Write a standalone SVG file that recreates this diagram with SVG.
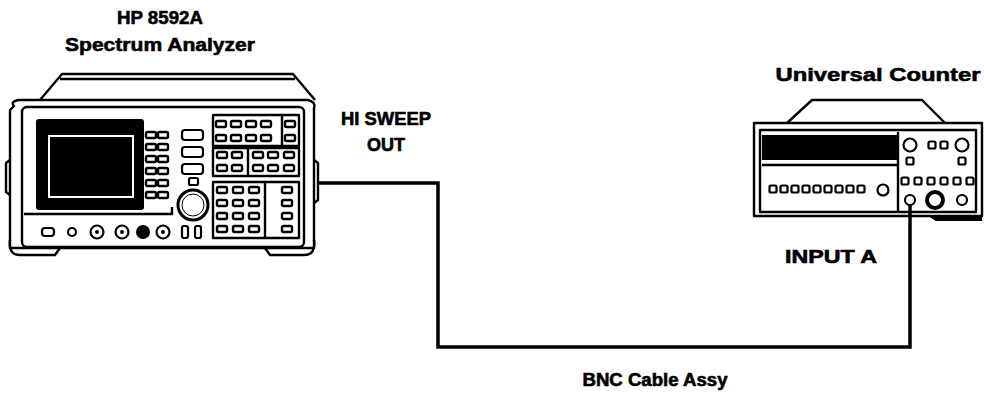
<svg xmlns="http://www.w3.org/2000/svg" width="984" height="393" viewBox="0 0 984 393">
<style>
.t{font-family:"Liberation Sans",Arial,sans-serif;font-weight:bold;fill:#000;stroke:#000;stroke-width:0.6;}
.s{fill:none;stroke:#000;stroke-width:2.4;stroke-linejoin:round;}
.k{fill:#fff;stroke:#000;stroke-width:2.2;}
.cable{fill:none;stroke:#000;stroke-width:3.5;}
</style>
<defs>
<rect id="key" x="-5" y="-3" width="10" height="6" rx="1.5" fill="#fff" stroke="#000" stroke-width="2.4"/>
<rect id="sq" x="-3.5" y="-3.5" width="7" height="7" rx="1.5" fill="#fff" stroke="#000" stroke-width="2.2"/>
</defs>
<rect width="984" height="393" fill="#fff"/>

<g id="analyzer">
<text class="t" x="160" y="24" font-size="19" text-anchor="middle" textLength="86" lengthAdjust="spacingAndGlyphs">HP 8592A</text>
<text class="t" x="160" y="51" font-size="19" text-anchor="middle" textLength="190" lengthAdjust="spacingAndGlyphs">Spectrum Analyzer</text>
<!-- top cover -->
<path class="s" d="M40,100 L62,74 L293,74 L315,100"/>
<path class="s" d="M60,79 L295,79"/>
<!-- outer frame -->
<path class="s" d="M14,106 Q10,102 18,100 L308,100 Q316,102 314,108 L314,248 L10,248 L10,110 Z"/>
<rect class="s" x="22" y="107" width="282" height="140" rx="5"/>
<!-- side bumps -->
<path class="s" d="M10,160 L6,163 L6,192 L10,195"/>
<path class="s" d="M314,160 L318,163 L318,200 L314,203"/>
<!-- feet -->
<path class="s" d="M10,240 Q8,255 20,255 L55,255 L60,248"/>
<path class="s" d="M314,240 Q316,255 304,255 L270,255 L265,248"/>
<!-- screen -->
<rect x="36" y="119" width="108" height="91" rx="3" fill="#000"/>
<rect x="49" y="136" width="84" height="61" fill="#000" stroke="#fff" stroke-width="2"/>
<!-- softkeys -->
<g>
<use href="#key" x="151" y="135"/><use href="#key" x="163" y="135"/>
<use href="#key" x="151" y="147"/><use href="#key" x="163" y="147"/>
<use href="#key" x="151" y="159"/><use href="#key" x="163" y="159"/>
<use href="#key" x="151" y="171"/><use href="#key" x="163" y="171"/>
<use href="#key" x="151" y="183"/><use href="#key" x="163" y="183"/>
<use href="#key" x="151" y="195"/><use href="#key" x="163" y="195"/>
</g>
<path class="s" d="M24,214 L172,214 L172,207"/>
<!-- center column -->
<rect class="k" x="182" y="130" width="21" height="10" rx="3"/>
<rect class="k" x="182" y="147" width="21" height="10" rx="3"/>
<rect class="k" x="182" y="164" width="21" height="10" rx="3"/>
<rect class="k" x="189" y="178" width="9" height="7" rx="1.5"/>
<circle cx="193" cy="205" r="15" fill="#fff" stroke="#000" stroke-width="3"/>
<circle cx="193" cy="205" r="11" fill="none" stroke="#000" stroke-width="1"/>
<!-- key block 1 -->
<rect class="s" x="213" y="115" width="86" height="31"/>
<line class="s" x1="282" y1="115" x2="282" y2="146"/>
<use href="#key" x="221" y="124"/><use href="#key" x="236" y="124"/><use href="#key" x="251" y="124"/><use href="#key" x="266" y="124"/><use href="#key" x="290" y="124"/>
<use href="#key" x="221" y="138"/><use href="#key" x="236" y="138"/><use href="#key" x="251" y="138"/><use href="#key" x="266" y="138"/><use href="#key" x="290" y="138"/>
<!-- key block 2 -->
<rect class="s" x="213" y="148" width="86" height="28"/>
<line class="s" x1="248" y1="148" x2="248" y2="176"/>
<use href="#key" x="222" y="155"/><use href="#key" x="237" y="155"/><use href="#key" x="258" y="155"/><use href="#key" x="273" y="155"/><use href="#key" x="289" y="155"/>
<use href="#key" x="222" y="168"/><use href="#key" x="237" y="168"/><use href="#key" x="258" y="168"/><use href="#key" x="273" y="168"/><use href="#key" x="289" y="168"/>
<!-- key block 3 -->
<rect class="s" x="213" y="182" width="86" height="56"/>
<line class="s" x1="265" y1="182" x2="265" y2="238"/>
<use href="#key" x="222" y="190"/><use href="#key" x="238" y="190"/><use href="#key" x="254" y="190"/><use href="#key" x="287" y="190"/>
<use href="#key" x="222" y="203"/><use href="#key" x="238" y="203"/><use href="#key" x="254" y="203"/><use href="#key" x="287" y="203"/>
<use href="#key" x="222" y="216"/><use href="#key" x="238" y="216"/><use href="#key" x="254" y="216"/><use href="#key" x="287" y="216"/>
<use href="#key" x="222" y="229"/><use href="#key" x="238" y="229"/><use href="#key" x="254" y="229"/><use href="#key" x="287" y="229"/>
<!-- bottom row -->
<rect class="k" x="42" y="228" width="12" height="8" rx="3"/>
<circle class="k" cx="72" cy="232" r="4"/>
<circle class="k" cx="97" cy="232" r="6.5"/><circle cx="97" cy="232" r="2" fill="#000"/>
<circle class="k" cx="122" cy="232" r="6.5"/><circle cx="122" cy="232" r="2" fill="#000"/>
<circle cx="143" cy="232" r="7" fill="#000"/>
<circle class="k" cx="163" cy="232" r="6.5"/><circle cx="163" cy="232" r="2" fill="#000"/>
<rect class="k" x="182" y="226" width="6" height="12" rx="2"/>
<rect class="k" x="195" y="226" width="6" height="12" rx="2"/>
</g>

<g id="counter">
<text class="t" x="878" y="81" font-size="19" text-anchor="middle" textLength="205" lengthAdjust="spacingAndGlyphs">Universal Counter</text>
<path class="s" d="M787,123 L812,100 L922,100 L945,123"/>
<rect class="s" x="754" y="123" width="228" height="93"/>
<rect class="s" x="760" y="130" width="216" height="82"/>
<rect x="762" y="135" width="135" height="25" fill="#000"/>
<line class="s" x1="762" y1="165" x2="897" y2="165"/>
<line class="s" x1="898" y1="132" x2="898" y2="212"/>
<g>
<use href="#sq" x="773" y="189"/><use href="#sq" x="784" y="189"/><use href="#sq" x="795" y="189"/><use href="#sq" x="806" y="189"/><use href="#sq" x="817" y="189"/><use href="#sq" x="828" y="189"/><use href="#sq" x="839" y="189"/><use href="#sq" x="850" y="189"/><use href="#sq" x="861" y="189"/>
</g>
<circle class="k" cx="883" cy="190" r="5.5"/>
<circle class="k" cx="910" cy="145" r="6.5"/>
<use href="#sq" x="932" y="145"/><use href="#sq" x="944" y="145"/>
<circle class="k" cx="962" cy="145" r="6.5"/>
<use href="#sq" x="910" y="161"/><use href="#sq" x="962" y="161"/>
<use href="#sq" x="905" y="181"/><use href="#sq" x="918" y="181"/><use href="#sq" x="931" y="181"/><use href="#sq" x="944" y="181"/><use href="#sq" x="957" y="181"/><use href="#sq" x="970" y="181"/>
<circle class="k" cx="910" cy="200" r="5"/>
<circle cx="935" cy="200" r="8" fill="#fff" stroke="#000" stroke-width="4"/>
<circle class="k" cx="962" cy="200" r="5"/>
<path d="M928,216 L982,216 L982,221 L936,221 Z" fill="#000"/>
</g>

<g id="labels">
<text class="t" x="386" y="125" font-size="18" text-anchor="middle" textLength="90" lengthAdjust="spacingAndGlyphs">HI SWEEP</text>
<text class="t" x="386" y="151" font-size="18" text-anchor="middle">OUT</text>
<text class="t" x="831" y="263" font-size="18" text-anchor="middle" textLength="92" lengthAdjust="spacingAndGlyphs">INPUT A</text>
<text class="t" x="655" y="386" font-size="18" text-anchor="middle" textLength="145" lengthAdjust="spacingAndGlyphs">BNC Cable Assy</text>
</g>

<g id="connectors">
<path class="cable" d="M318,183 L438,183 L438,347 L910,347 L910,204"/>
</g>
</svg>
